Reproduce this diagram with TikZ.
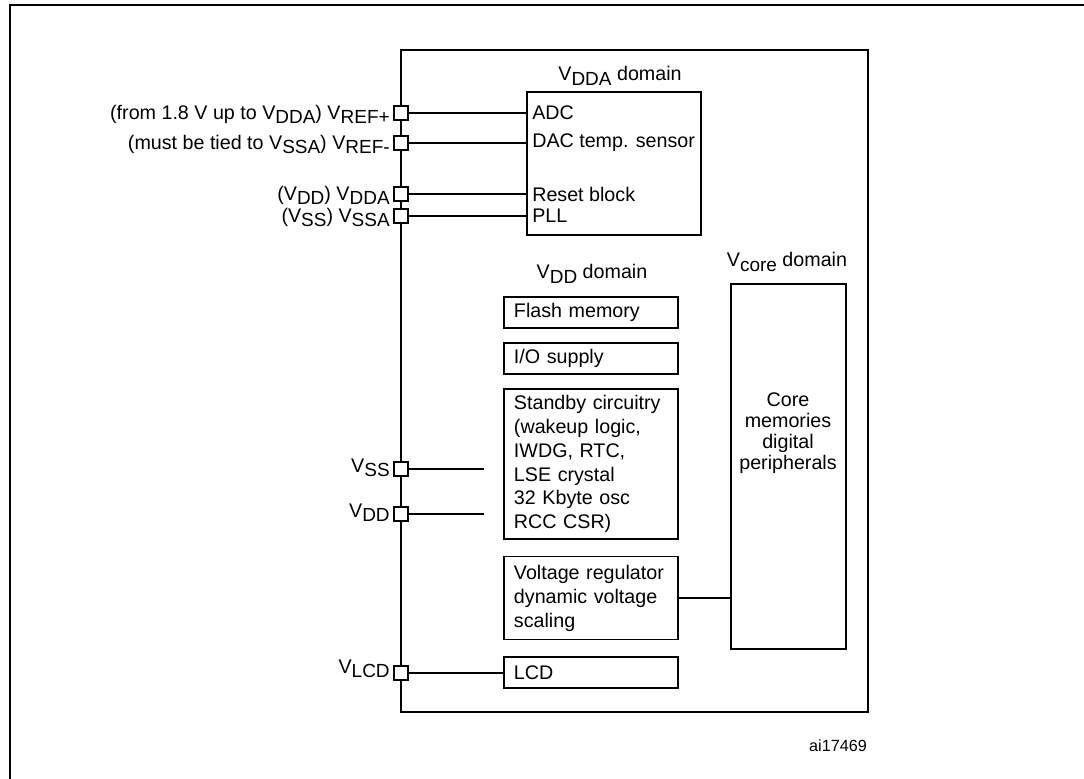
\documentclass[tikz,border=0pt]{standalone}
\usepackage{fontspec}
\setmainfont{Liberation Sans}
\usetikzlibrary{positioning}
\newcommand{\sbs}[1]{\raisebox{-3.2pt}{\fontsize{13.5}{15}\selectfont #1}}

\begin{document}
\begin{tikzpicture}[x=0.025cm,y=-0.025cm,
  every node/.style={font=\fontsize{14}{17}\selectfont},
  padbox/.style={draw,fill=white,line width=1.3pt,minimum size=0.33cm,inner sep=0},
  padlbl/.style={anchor=east,inner sep=0},
  blk/.style={draw,line width=1.3pt,text width=3.85cm,inner xsep=0.25cm,inner ysep=0,align=left,minimum height=0.775cm},
  wire/.style={line width=1.4pt},
  intxt/.style={anchor=west,inner sep=0}]
\useasboundingbox (0,0) rectangle (1084,778);

% outer frame (cut by the page)
\draw[line width=2pt] (10,780) -- (10,5) -- (1090,5);

% chip outline
\node[draw,line width=1.8pt,minimum width=11.675cm,minimum height=16.55cm,inner sep=0] (chip) at (634.5,381) {};

% VDDA domain
\node (vddalbl) at (620,76) {V\sbs{DDA} domain};
\node[draw,line width=1.3pt,minimum width=4.35cm,minimum height=3.575cm,inner sep=0] (vdda) at (614,163.5) {};
\node[intxt] (adc) at (532,113) {ADC};
\node[intxt] (dac) at (532,143) {DAC temp. sensor};
\node[intxt] (rst) at (532,194) {Reset block};
\node[intxt] (pll) at (532,216) {PLL};

% VDD domain
\node (vddlbl) at (592,274) {V\sbs{DD} domain};
\node[blk] (flash) at (591,312.5) {Flash memory};
\node[blk] (iosup) at (591,358.5) {I/O supply};
\node[blk,minimum height=3.75cm] (stby) at (591,464) {Standby circuitry\\(wakeup logic,\\IWDG, RTC,\\LSE crystal\\32 Kbyte osc\\RCC CSR)};
\node[blk,minimum height=2.075cm] (vreg) at (591,598) {Voltage regulator\\dynamic voltage\\scaling};
\node[blk] (lcd) at (591,672.5) {LCD};

% Vcore domain
\node (vcorelbl) at (787,262) {V\sbs{core} domain};
\node[draw,line width=1.3pt,minimum width=2.875cm,minimum height=9.125cm,inner sep=0] (vcore) at (788.5,466.5) {};
\node[align=center,inner sep=0,font=\fontsize{14}{15}\selectfont] (coretxt) at (788,433) {Core\\memories\\digital\\peripherals};

% pads
\node[padbox] (prefp) at (401,113) {};
\node[padbox] (prefm) at (401,143) {};
\node[padbox] (pvdda) at (401,194) {};
\node[padbox] (pvssa) at (401,216) {};
\node[padbox] (pvss) at (401,469) {};
\node[padbox] (pvdd) at (401,514) {};
\node[padbox] (pvlcd) at (401,673) {};

\node[padlbl] at ([xshift=-2.5pt,yshift=-1pt]prefp.west) {(from 1.8 V up to V\sbs{DDA}) V\sbs{REF+}};
\node[padlbl] at ([xshift=-2.5pt,yshift=-1pt]prefm.west) {(must be tied to V\sbs{SSA}) V\sbs{REF-}};
\node[padlbl] at ([xshift=-2.5pt,yshift=-1pt]pvdda.west) {(V\sbs{DD}) V\sbs{DDA}};
\node[padlbl] at ([xshift=-2.5pt,yshift=-1pt]pvssa.west) {(V\sbs{SS}) V\sbs{SSA}};
\node[padlbl] at ([xshift=-2.5pt,yshift=1pt]pvss.west) {V\sbs{SS}};
\node[padlbl] at ([xshift=-2.5pt,yshift=1pt]pvdd.west) {V\sbs{DD}};
\node[padlbl] at ([xshift=-2.5pt,yshift=3pt]pvlcd.west) {V\sbs{LCD}};

% wires
\draw[wire] (prefp.east) -- (vdda.west |- prefp);
\draw[wire] (prefm.east) -- (vdda.west |- prefm);
\draw[wire] (pvdda.east) -- (vdda.west |- pvdda);
\draw[wire] (pvssa.east) -- (vdda.west |- pvssa);
\coordinate (vssend) at (484,469);
\coordinate (vddend) at (484,514);
\draw[wire] (pvss.east) -- (vssend);
\draw[wire] (pvdd.east) -- (vddend);
\draw[wire] (pvlcd.east) -- (lcd.west |- pvlcd);
\draw[wire] (vreg.east) -- (vcore.west |- vreg.east);

\node[font=\fontsize{11.5}{14}\selectfont] (figid) at (838,746) {ai17469};
\end{tikzpicture}
\end{document}
